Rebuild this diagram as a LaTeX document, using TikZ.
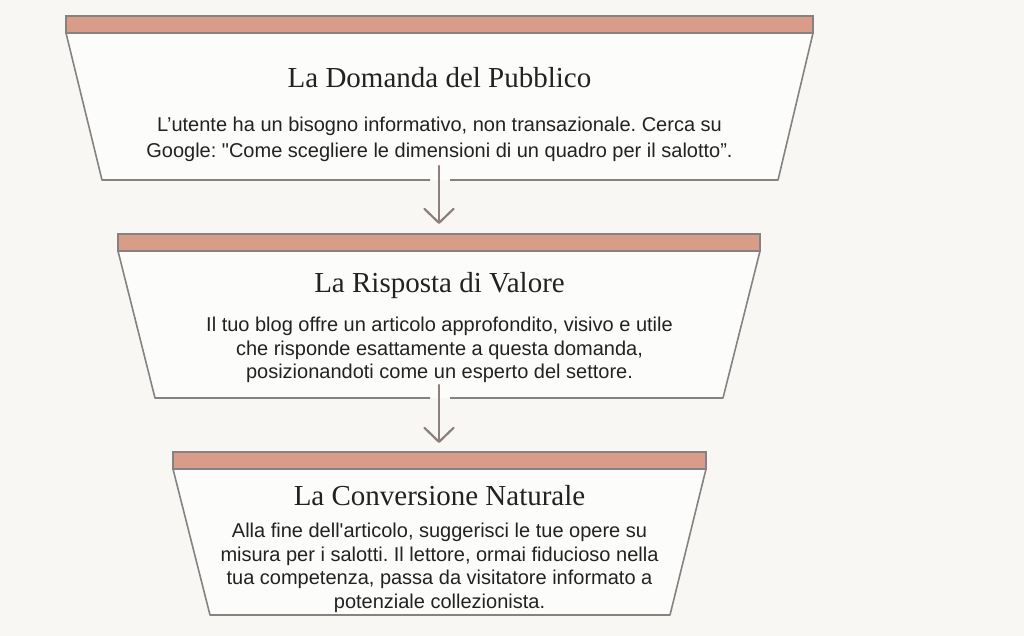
\documentclass[tikz,border=0pt]{standalone}
\usepackage{fontspec}
\setmainfont{Liberation Serif}
\setsansfont{Liberation Sans}
\usetikzlibrary{arrows.meta}
\definecolor{bgcol}{HTML}{F8F7F3}
\definecolor{barcol}{HTML}{D99C88}
\definecolor{edgecol}{HTML}{858283}
\definecolor{boxcol}{HTML}{FCFCFA}
\definecolor{arrowcol}{HTML}{8C7F7D}
\definecolor{inkcol}{HTML}{222222}
\frenchspacing
\tikzset{
  funnel/.style={draw=edgecol, line width=1.6pt, line join=round},
  topbar/.style={draw=edgecol, fill=barcol, line width=1.6pt},
  titletext/.style={font=\fontsize{29}{31}\selectfont, text=inkcol, inner sep=0pt},
  bodytext/.style={font=\sffamily\fontsize{20}{23.5}\selectfont, align=center, text=inkcol, inner sep=0pt},
  flowarrow/.style={draw=arrowcol, line width=2.2pt, line cap=round, -{Straight Barb[length=14pt,width=29pt,round]}}
}
\begin{document}
\begin{tikzpicture}[x=1pt,y=-1pt]
\fill[bgcol] (0,0) rectangle (1024,636);
\useasboundingbox (0,0) rectangle (1024,636);

% first box
\fill[boxcol] (66,33) -- (813,33) -- (778,180) -- (102,180) -- cycle;
\draw[funnel] (430,180) -- (102,180) -- (66,33) -- (813,33) -- (778,180) -- (450,180);
\draw[topbar] (66,16) rectangle (813,33);
\node[titletext, anchor=base] (dom-title) at (439.5,88) {La Domanda del Pubblico};
\node[bodytext, anchor=north] (dom-text) at (439.5,117) {L’utente ha un bisogno informativo, non transazionale. Cerca su\\[2pt]Google: \textquotedbl Come scegliere le dimensioni di un quadro per il salotto”.};

% second box
\fill[boxcol] (118,251) -- (760,251) -- (723,398) -- (155,398) -- cycle;
\draw[funnel] (430,398) -- (155,398) -- (118,251) -- (760,251) -- (723,398) -- (450,398);
\draw[topbar] (118,234) rectangle (760,251);
\node[titletext, anchor=base] (ris-title) at (439.5,292) {La Risposta di Valore};
\node[bodytext, anchor=north] (ris-text) at (439.5,317) {Il tuo blog offre un articolo approfondito, visivo e utile\\che risponde esattamente a questa domanda,\\posizionandoti come un esperto del settore.};

% third box
\fill[boxcol] (173,469) -- (706,469) -- (670,615) -- (210,615) -- cycle;
\draw[funnel] (210,615) -- (173,469) -- (706,469) -- (670,615) -- cycle;
\draw[topbar] (173,452) rectangle (706,469);
\node[titletext, anchor=base] (con-title) at (439.5,505) {La Conversione Naturale};
\node[bodytext, anchor=north] (con-text) at (439.5,523) {Alla fine dell\textquotesingle articolo, suggerisci le tue opere su\\misura per i salotti. Il lettore, ormai fiducioso nella\\tua competenza, passa da visitatore informato a\\potenziale collezionista.};

% arrows
\coordinate (dom-out) at (439,166);
\coordinate (ris-in) at (439,224);
\coordinate (ris-out) at (439,385);
\coordinate (con-in) at (439,443);
\draw[flowarrow] (dom-out) -- (ris-in);
\draw[flowarrow] (ris-out) -- (con-in);
\end{tikzpicture}
\end{document}
